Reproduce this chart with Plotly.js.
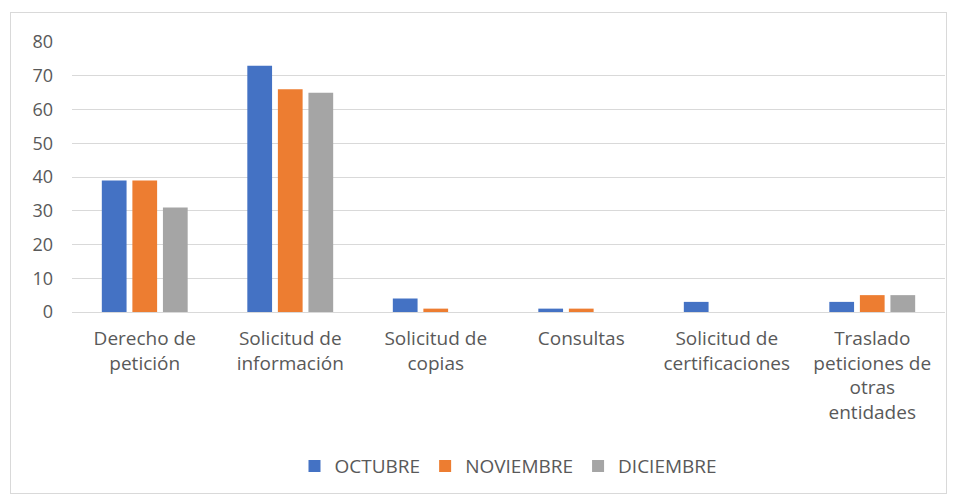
<!DOCTYPE html>
<html>
<head>
<meta charset="utf-8">
<script src="https://cdn.plot.ly/plotly-3.0.1.min.js"></script>
<style>
html,body{margin:0;padding:0;background:#fff;}
#frame{position:absolute;left:10px;top:12px;width:937px;height:482px;border:1px solid #d9d9d9;box-sizing:border-box;}
#chart{position:absolute;left:0;top:0;width:959px;height:496px;}
</style>
</head>
<body>
<div id="frame"></div>
<div id="chart"></div>
<script>
var categories = ["Derecho de<br>petición","Solicitud de<br>información","Solicitud de<br>copias","Consultas","Solicitud de<br>certificaciones","Traslado<br>peticiones de<br>otras<br>entidades"];
var octubre = [39, 73, 4, 1, 3, 3];
var noviembre = [39, 66, 1, 1, 0, 5];
var diciembre = [31, 65, 0, 0, 0, 5];
var seriesNames = ["OCTUBRE","NOVIEMBRE","DICIEMBRE"];
var colors = ["#4472C4","#ED7D31","#A5A5A5"];
var yTicks = [0,10,20,30,40,50,60,70,80];

var fam = "'Open Sans', 'Noto Sans', sans-serif";
var font = {family: fam, size: 18, color: "#595959"};
var xfont = {family: fam, size: 19, color: "#595959"};
var lfont = {family: fam, size: 19, color: "#595959"};
var data = [octubre, noviembre, diciembre].map(function(v, i){
  return {type:"bar", x: categories, y: v, name: seriesNames[i],
    marker:{color: colors[i]}, hoverinfo:"none"};
});
var layout = {
  width: 959, height: 496,
  margin: {l:72, r:14, t:42, b:183},
  paper_bgcolor: "rgba(0,0,0,0)", plot_bgcolor: "rgba(0,0,0,0)",
  font: font,
  barmode: "group", bargap: 0.37, bargroupgap: 0.19,
  xaxis: {tickfont: xfont, showgrid:false, showline:false, zeroline:false, ticks:"", tickangle:0, automargin:false, ticklabelstandoff: 13},
  yaxis: {range:[0,80], tickvals: yTicks, ticktext: yTicks.map(String), tickfont: font,
    showgrid:true, gridcolor:"#d9d9d9", gridwidth:1, zeroline:true, zerolinecolor:"#d9d9d9", zerolinewidth:1,
    showline:false, ticks:"", ticklabelstandoff: 18, automargin:false},
  legend: {orientation:"h", x:0.5, xanchor:"center", y:-0.565, yanchor:"middle", font: lfont, itemwidth: 30, traceorder:"normal"},
  showlegend: true
};
Plotly.newPlot("chart", data, layout, {staticPlot:true, displayModeBar:false});
</script>
</body>
</html>
